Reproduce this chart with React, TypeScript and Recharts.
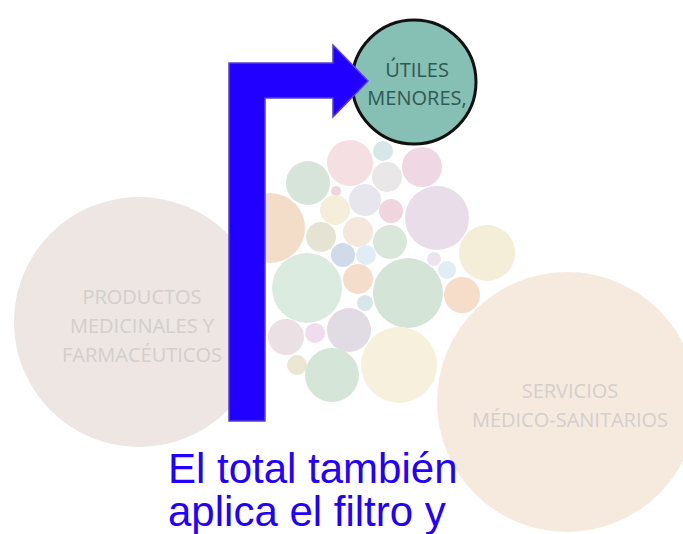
import React from 'react';
import { ScatterChart, Scatter, XAxis, YAxis, ZAxis } from 'recharts';

// bubble layout (x, y in chart units), size value and label per bubble
const labels = [
  'PRODUCTOS|MEDICINALES Y|FARMACÉUTICOS',
  'SERVICIOS|MÉDICO-SANITARIOS',
  '', '', '', '', '', '', '', '', '', '', '', '', '', '', '',
  '', '', '', '', '', '', '', '', '', '', '', '', '', '', '',
  'ÚTILES|MENORES,',
];
const xs = [139, 567, 270, 350, 383, 308, 387, 422, 336, 365, 335, 391, 437, 321, 358, 390, 487,
  343, 366, 307, 358, 408, 434, 447, 462, 365, 286, 315, 349, 297, 332, 399, 414];
const ys = [322, 402, 228, 163, 151, 183, 177, 167, 191, 200, 210, 211, 218, 237, 232, 242, 253,
  255, 255, 288, 279, 293, 259, 270, 295, 303, 337, 333, 330, 365, 375, 365, 82];
const values = [15625, 16900, 1225, 529, 100, 484, 225, 400, 25, 256, 225, 144, 1024, 225, 225, 289, 784,
  144, 100, 1225, 225, 1225, 49, 81, 324, 64, 324, 100, 484, 100, 729, 1444, 3844];

const fills = ['#ede6e2', '#f6eadf', '#f3ddc9', '#f5dfe2', '#d7e7e8', '#d6e4d9', '#e9e7e7', '#efd8e3',
  '#f1d5dc', '#e7e6ec', '#f4eedb', '#f0d5df', '#e9dde9', '#e5e3d3', '#f6e7dd', '#d9e7db', '#f4edd8',
  '#d0dae9', '#e1edf4', '#dcebdf', '#f5ddcc', '#d4e4d7', '#ece5ef', '#e2ecf4', '#f5ddc9', '#d7e7e9',
  '#ebe0e4', '#efdded', '#e1dbe4', '#ece7d3', '#d5e6d9', '#f7f0dd', '#86bfb3'];

const captionLines = ['El total también', 'aplica el filtro y'];

const data = xs.map((x, i) => ({ x, y: ys[i], z: values[i], label: labels[i], fill: fills[i] }));

const renderBubble = (props: any) => {
  const { cx, cy, width, payload } = props;
  const r = width / 2;
  const highlighted = payload.label.startsWith('ÚTILES');
  const lines = payload.label ? payload.label.split('|') : [];
  const lh = highlighted ? 28 : 29;
  return (
    <g>
      <circle
        cx={cx}
        cy={cy}
        r={r}
        fill={payload.fill}
        stroke={highlighted ? '#111' : 'none'}
        strokeWidth={highlighted ? 3 : 0}
      />
      {lines.map((t: string, i: number) => (
        <text
          key={i}
          x={cx + 3}
          y={cy + (highlighted ? 1 : 3) + (i - (lines.length - 1) / 2) * lh}
          textAnchor="middle"
          dominantBaseline="central"
          fontFamily="'Open Sans', sans-serif"
          fontSize={20}
          fill={highlighted ? '#2d5a54' : '#d3cfcc'}
        >
          {t}
        </text>
      ))}
    </g>
  );
};

export default function App() {
  return (
    <div style={{ position: 'absolute', left: 0, top: 0, width: 683, height: 534, background: '#fff', overflow: 'hidden' }}>
      <ScatterChart width={683} height={534} margin={{ top: 0, right: 0, bottom: 0, left: 0 }}>
        <XAxis type="number" dataKey="x" domain={[0, 683]} hide />
        <YAxis type="number" dataKey="y" domain={[0, 534]} reversed hide />
        <ZAxis type="number" dataKey="z" domain={[0, 16900]} range={[0, Math.PI * 16900]} />
        <Scatter data={data} shape={renderBubble} isAnimationActive={false} />
      </ScatterChart>
      <svg width={683} height={534} style={{ position: 'absolute', left: 0, top: 0 }}>
        <polygon
          points="229,421 229,63 333,63 333,45 368,81 333,117 333,98 265,98 265,421"
          fill="#2200ff"
          stroke="#5a3fd0"
          strokeWidth={1.5}
        />
        {captionLines.map((t, i) => (
          <text
            key={i}
            x={168}
            y={483 + i * 43}
            fontFamily="'Liberation Sans', Arial, sans-serif"
            fontSize={42}
            fill="#2200ff"
          >
            {t}
          </text>
        ))}
      </svg>
    </div>
  );
}
